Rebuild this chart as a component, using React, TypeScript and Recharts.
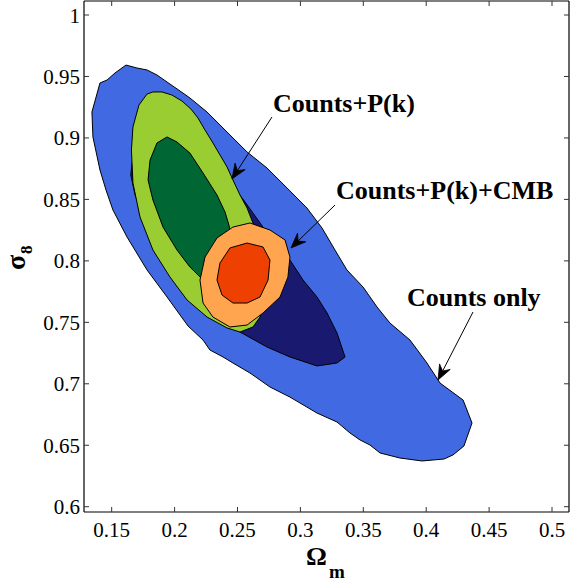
import React from 'react';
import { ScatterChart, Scatter, XAxis, YAxis, Label } from 'recharts';

// Ω_m, σ_8 contour outlines (data coordinates)
const countsOuter = [
  { x: 0.1614, y: 0.9593 }, { x: 0.1701, y: 0.9569 }, { x: 0.1781, y: 0.9553 }, { x: 0.1860, y: 0.9512 },
  { x: 0.1940, y: 0.9455 }, { x: 0.2043, y: 0.9382 }, { x: 0.2122, y: 0.9325 }, { x: 0.2258, y: 0.9211 },
  { x: 0.2417, y: 0.9048 }, { x: 0.2576, y: 0.8886 }, { x: 0.2735, y: 0.8755 }, { x: 0.2894, y: 0.8593 },
  { x: 0.3052, y: 0.8430 }, { x: 0.3172, y: 0.8267 }, { x: 0.3275, y: 0.8088 }, { x: 0.3370, y: 0.7926 },
  { x: 0.3498, y: 0.7787 }, { x: 0.3609, y: 0.7625 }, { x: 0.3712, y: 0.7494 }, { x: 0.3871, y: 0.7356 },
  { x: 0.4006, y: 0.7169 }, { x: 0.4110, y: 0.7006 }, { x: 0.4293, y: 0.6868 }, { x: 0.4364, y: 0.6681 },
  { x: 0.4300, y: 0.6494 }, { x: 0.4213, y: 0.6421 }, { x: 0.4141, y: 0.6388 }, { x: 0.3967, y: 0.6372 },
  { x: 0.3792, y: 0.6396 }, { x: 0.3633, y: 0.6437 }, { x: 0.3553, y: 0.6502 }, { x: 0.3474, y: 0.6543 },
  { x: 0.3394, y: 0.6600 }, { x: 0.3291, y: 0.6689 }, { x: 0.3132, y: 0.6762 }, { x: 0.2917, y: 0.6892 },
  { x: 0.2758, y: 0.6974 }, { x: 0.2599, y: 0.7088 }, { x: 0.2464, y: 0.7169 }, { x: 0.2385, y: 0.7218 },
  { x: 0.2281, y: 0.7275 }, { x: 0.2226, y: 0.7356 }, { x: 0.2107, y: 0.7470 }, { x: 0.1940, y: 0.7706 },
  { x: 0.1781, y: 0.7926 }, { x: 0.1622, y: 0.8194 }, { x: 0.1510, y: 0.8414 }, { x: 0.1455, y: 0.8576 },
  { x: 0.1407, y: 0.8739 }, { x: 0.1351, y: 0.9008 }, { x: 0.1343, y: 0.9211 }, { x: 0.1407, y: 0.9447 },
  { x: 0.1463, y: 0.9471 }, { x: 0.1526, y: 0.9528 },
];

const countsInner = [
  { x: 0.1805, y: 0.9186 }, { x: 0.2003, y: 0.9146 }, { x: 0.2202, y: 0.8983 }, { x: 0.2321, y: 0.8820 },
  { x: 0.2456, y: 0.8617 }, { x: 0.2560, y: 0.8479 }, { x: 0.2663, y: 0.8332 }, { x: 0.2774, y: 0.8170 },
  { x: 0.2917, y: 0.8007 }, { x: 0.3021, y: 0.7844 }, { x: 0.3132, y: 0.7706 }, { x: 0.3212, y: 0.7576 },
  { x: 0.3291, y: 0.7413 }, { x: 0.3355, y: 0.7218 }, { x: 0.3291, y: 0.7169 }, { x: 0.3132, y: 0.7145 },
  { x: 0.2917, y: 0.7218 }, { x: 0.2735, y: 0.7299 }, { x: 0.2520, y: 0.7421 }, { x: 0.2425, y: 0.7478 },
  { x: 0.2281, y: 0.7560 }, { x: 0.2138, y: 0.7682 }, { x: 0.2003, y: 0.7861 }, { x: 0.1860, y: 0.8088 },
  { x: 0.1765, y: 0.8316 }, { x: 0.1686, y: 0.8536 }, { x: 0.1652, y: 0.8698 }, { x: 0.1669, y: 0.8861 },
  { x: 0.1717, y: 0.9040 },
];

const pkOuter = [
  { x: 0.1781, y: 0.9357 }, { x: 0.1828, y: 0.9374 }, { x: 0.1900, y: 0.9374 }, { x: 0.1979, y: 0.9349 },
  { x: 0.2059, y: 0.9300 }, { x: 0.2130, y: 0.9235 }, { x: 0.2186, y: 0.9162 }, { x: 0.2242, y: 0.9064 },
  { x: 0.2305, y: 0.8959 }, { x: 0.2361, y: 0.8861 }, { x: 0.2417, y: 0.8764 }, { x: 0.2464, y: 0.8658 },
  { x: 0.2520, y: 0.8536 }, { x: 0.2576, y: 0.8430 }, { x: 0.2623, y: 0.8308 }, { x: 0.2695, y: 0.8129 },
  { x: 0.2727, y: 0.7926 }, { x: 0.2711, y: 0.7682 }, { x: 0.2679, y: 0.7543 }, { x: 0.2623, y: 0.7462 },
  { x: 0.2520, y: 0.7421 }, { x: 0.2417, y: 0.7454 }, { x: 0.2258, y: 0.7543 }, { x: 0.2099, y: 0.7682 },
  { x: 0.1963, y: 0.7869 }, { x: 0.1828, y: 0.8088 }, { x: 0.1725, y: 0.8357 }, { x: 0.1669, y: 0.8633 },
  { x: 0.1657, y: 0.8902 }, { x: 0.1669, y: 0.9089 }, { x: 0.1717, y: 0.9268 },
];

const pkInner = [
  { x: 0.1940, y: 0.9008 }, { x: 0.2019, y: 0.8967 }, { x: 0.2122, y: 0.8877 }, { x: 0.2226, y: 0.8715 },
  { x: 0.2337, y: 0.8536 }, { x: 0.2401, y: 0.8397 }, { x: 0.2432, y: 0.8292 }, { x: 0.2456, y: 0.8170 },
  { x: 0.2401, y: 0.7991 }, { x: 0.2242, y: 0.7828 }, { x: 0.2122, y: 0.7950 }, { x: 0.2019, y: 0.8088 },
  { x: 0.1908, y: 0.8275 }, { x: 0.1828, y: 0.8495 }, { x: 0.1789, y: 0.8658 }, { x: 0.1805, y: 0.8820 },
  { x: 0.1860, y: 0.8959 },
];

const cmbOuter = [
  { x: 0.2202, y: 0.7844 }, { x: 0.2242, y: 0.8031 }, { x: 0.2337, y: 0.8186 }, { x: 0.2464, y: 0.8275 },
  { x: 0.2599, y: 0.8308 }, { x: 0.2758, y: 0.8251 }, { x: 0.2878, y: 0.8170 }, { x: 0.2917, y: 0.8031 },
  { x: 0.2901, y: 0.7869 }, { x: 0.2838, y: 0.7706 }, { x: 0.2703, y: 0.7576 }, { x: 0.2576, y: 0.7478 },
  { x: 0.2440, y: 0.7462 }, { x: 0.2305, y: 0.7543 }, { x: 0.2226, y: 0.7657 },
];

const cmbInner = [
  { x: 0.2337, y: 0.7844 }, { x: 0.2361, y: 0.7983 }, { x: 0.2440, y: 0.8105 }, { x: 0.2576, y: 0.8145 },
  { x: 0.2703, y: 0.8113 }, { x: 0.2758, y: 0.8007 }, { x: 0.2743, y: 0.7844 }, { x: 0.2679, y: 0.7706 },
  { x: 0.2576, y: 0.7657 }, { x: 0.2464, y: 0.7657 }, { x: 0.2377, y: 0.7722 },
];

// annotation arrows: [start, tip]
const arrowPk = [{ x: 0.2774, y: 0.9170 }, { x: 0.2456, y: 0.8666 }];
const arrowCmb = [{ x: 0.3275, y: 0.8454 }, { x: 0.2925, y: 0.8105 }];
const arrowCounts = [{ x: 0.4372, y: 0.7584 }, { x: 0.4094, y: 0.7031 }];

const labels = [
  { x: 0.2782, y: 0.9211, text: 'Counts+P(k)' },
  { x: 0.3283, y: 0.8503, text: 'Counts+P(k)+CMB' },
  { x: 0.3847, y: 0.7633, text: 'Counts only' },
];

const xTicks = [0.15, 0.2, 0.25, 0.3, 0.35, 0.4, 0.45, 0.5];
const yTicks = [0.6, 0.65, 0.7, 0.75, 0.8, 0.85, 0.9, 0.95, 1];
const xDomain = [0.128, 0.5135];
const yDomain = [0.5957, 1.0114];

const FONT = '"Liberation Serif", "Times New Roman", serif';

const polyLine = (fill: string) => (props: any) => {
  const pts = (props.points || []) as { x: number; y: number }[];
  return (
    <polygon
      points={pts.map((p) => `${p.x},${p.y}`).join(' ')}
      fill={fill}
      stroke="#000"
      strokeWidth={1}
      strokeLinejoin="round"
    />
  );
};

const arrowLine = (props: any) => {
  const pts = (props.points || []) as { x: number; y: number }[];
  if (pts.length < 2) return <g />;
  const [s, t] = pts;
  const dx = t.x - s.x;
  const dy = t.y - s.y;
  const len = Math.sqrt(dx * dx + dy * dy) || 1;
  const ux = dx / len;
  const uy = dy / len;
  const nx = -uy;
  const ny = ux;
  const L = 15;
  const W = 6;
  const N = 10;
  const bx = t.x - ux * L;
  const by = t.y - uy * L;
  const head = [
    [t.x, t.y],
    [bx + nx * W, by + ny * W],
    [t.x - ux * N, t.y - uy * N],
    [bx - nx * W, by - ny * W],
  ]
    .map((p) => `${p[0]},${p[1]}`)
    .join(' ');
  return (
    <g>
      <line x1={s.x} y1={s.y} x2={t.x - ux * N} y2={t.y - uy * N} stroke="#000" strokeWidth={1} />
      <polygon points={head} fill="#000" stroke="#000" strokeWidth={0.8} strokeLinejoin="miter" />
    </g>
  );
};

const noShape = () => <g />;

const labelShape = (props: any) => (
  <text
    x={props.cx}
    y={props.cy}
    textAnchor="start"
    fontFamily={FONT}
    fontWeight="bold"
    fontSize={26}
    fill="#000"
  >
    {props.payload.text}
  </text>
);

const BottomTick = (props: any) => {
  const { x, y, payload } = props;
  return (
    <g>
      <line x1={x} y1={y} x2={x} y2={y - 5} stroke="#333" strokeWidth={1} />
      <text x={x} y={y + 25} textAnchor="middle" fontFamily={FONT} fontSize={21} fill="#000">
        {String(payload.value)}
      </text>
    </g>
  );
};

const LeftTick = (props: any) => {
  const { x, y, payload } = props;
  return (
    <g>
      <line x1={x} y1={y} x2={x + 5} y2={y} stroke="#333" strokeWidth={1} />
      <text x={x - 4} y={y + 7.5} textAnchor="end" fontFamily={FONT} fontSize={21} fill="#000">
        {String(payload.value)}
      </text>
    </g>
  );
};

const TopTick = (props: any) => {
  const { x, y } = props;
  return <line x1={x} y1={y} x2={x} y2={y + 5} stroke="#333" strokeWidth={1} />;
};

const RightTick = (props: any) => {
  const { x, y } = props;
  return <line x1={x} y1={y} x2={x - 5} y2={y} stroke="#333" strokeWidth={1} />;
};

const XLabel = () => (
  <g>
    <text x={306} y={565} fontFamily={FONT} fontWeight="bold" fontSize={26} fill="#000">
      Ω
    </text>
    <text x={329} y={578} fontFamily={FONT} fontWeight="bold" fontSize={19} fill="#000">
      m
    </text>
  </g>
);

const YLabel = () => (
  <g transform="translate(25,270) rotate(-90)">
    <text x={0} y={0} fontFamily={FONT} fontWeight="bold" fontSize={28} fill="#000">
      σ
    </text>
    <text x={16} y={7} fontFamily={FONT} fontWeight="bold" fontSize={17} fill="#000">
      8
    </text>
  </g>
);

export default function App() {
  return (
    <div style={{ position: 'absolute', left: 0, top: 0, width: 570, height: 586, background: '#fff' }}>
      <ScatterChart width={570} height={586} margin={{ top: 0, right: 0, bottom: 0, left: 0 }}>
        <XAxis
          xAxisId="bottom"
          type="number"
          dataKey="x"
          orientation="bottom"
          domain={xDomain}
          allowDataOverflow
          ticks={xTicks}
          interval={0}
          height={74}
          tickSize={0}
          tickMargin={0}
          tickLine={false}
          axisLine={{ stroke: '#000', strokeWidth: 1.2 }}
          tick={<BottomTick />}
        >
          <Label content={<XLabel />} />
        </XAxis>
        <XAxis
          xAxisId="top"
          type="number"
          dataKey="x"
          orientation="top"
          domain={xDomain}
          allowDataOverflow
          ticks={xTicks}
          interval={0}
          height={1}
          tickSize={0}
          tickMargin={0}
          tickLine={false}
          axisLine={{ stroke: '#000', strokeWidth: 1.2 }}
          tick={<TopTick />}
        />
        <YAxis
          yAxisId="left"
          type="number"
          dataKey="y"
          orientation="left"
          domain={yDomain}
          allowDataOverflow
          ticks={yTicks}
          interval={0}
          width={84}
          tickSize={0}
          tickMargin={0}
          tickLine={false}
          axisLine={{ stroke: '#000', strokeWidth: 1.2 }}
          tick={<LeftTick />}
        >
          <Label content={<YLabel />} />
        </YAxis>
        <YAxis
          yAxisId="right"
          type="number"
          dataKey="y"
          orientation="right"
          domain={yDomain}
          allowDataOverflow
          ticks={yTicks}
          interval={0}
          width={1}
          tickSize={0}
          tickMargin={0}
          tickLine={false}
          axisLine={{ stroke: '#000', strokeWidth: 1.2 }}
          tick={<RightTick />}
        />

        <Scatter xAxisId="bottom" yAxisId="left" data={countsOuter} line={polyLine('#4169E1')} lineType="joint" shape={noShape} isAnimationActive={false} />
        <Scatter xAxisId="bottom" yAxisId="left" data={countsInner} line={polyLine('#191970')} lineType="joint" shape={noShape} isAnimationActive={false} />
        <Scatter xAxisId="bottom" yAxisId="left" data={pkOuter} line={polyLine('#9ACD32')} lineType="joint" shape={noShape} isAnimationActive={false} />
        <Scatter xAxisId="bottom" yAxisId="left" data={pkInner} line={polyLine('#006633')} lineType="joint" shape={noShape} isAnimationActive={false} />
        <Scatter xAxisId="bottom" yAxisId="left" data={cmbOuter} line={polyLine('#FFA54F')} lineType="joint" shape={noShape} isAnimationActive={false} />
        <Scatter xAxisId="bottom" yAxisId="left" data={cmbInner} line={polyLine('#EE4000')} lineType="joint" shape={noShape} isAnimationActive={false} />

        <Scatter xAxisId="top" yAxisId="right" data={arrowPk} line={arrowLine} lineType="joint" shape={noShape} isAnimationActive={false} />
        <Scatter xAxisId="top" yAxisId="right" data={arrowCmb} line={arrowLine} lineType="joint" shape={noShape} isAnimationActive={false} />
        <Scatter xAxisId="top" yAxisId="right" data={arrowCounts} line={arrowLine} lineType="joint" shape={noShape} isAnimationActive={false} />
        <Scatter xAxisId="top" yAxisId="right" data={labels} shape={labelShape} isAnimationActive={false} />
      </ScatterChart>
    </div>
  );
}
